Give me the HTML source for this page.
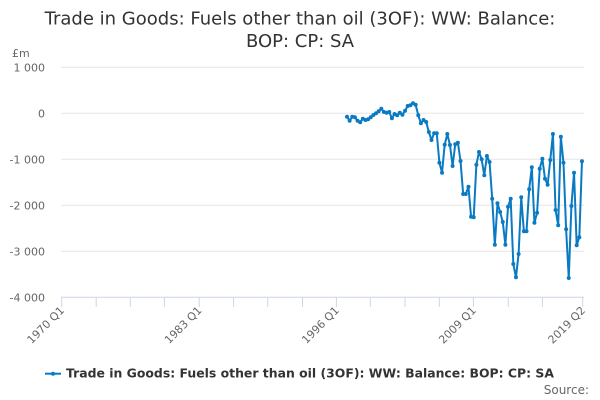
<!DOCTYPE html>
<html>
<head>
<meta charset="utf-8">
<style>
  html, body { margin: 0; padding: 0; background: #ffffff; }
  svg { display: block; font-family: "DejaVu Sans", "Liberation Sans", sans-serif; }
</style>
</head>
<body>
<svg width="600" height="400" viewBox="0 0 600 400" xmlns="http://www.w3.org/2000/svg">
  <defs>
    <marker id="dot" viewBox="-3 -3 6 6" markerWidth="6" markerHeight="6" refX="0" refY="0" markerUnits="userSpaceOnUse">
      <circle cx="0" cy="0" r="2" fill="#0a7bc2"/>
    </marker>
  </defs>
  <rect x="0" y="0" width="600" height="400" fill="#ffffff"/>

  <!-- Title -->
  <text x="300" y="24.5" text-anchor="middle" font-size="18" fill="#333333">Trade in Goods: Fuels other than oil (3OF): WW: Balance:</text>
  <text x="300" y="47" text-anchor="middle" font-size="18" fill="#333333">BOP: CP: SA</text>

  <!-- Axis unit -->
  <text x="12" y="57" font-size="11" fill="#666666">£m</text>

  <!-- Gridlines -->
  <g stroke="#e6e6e6" stroke-width="1">
    <line x1="61" y1="67.3" x2="584" y2="67.3"/>
    <line x1="61" y1="113.3" x2="584" y2="113.3"/>
    <line x1="61" y1="159.3" x2="584" y2="159.3"/>
    <line x1="61" y1="205.3" x2="584" y2="205.3"/>
    <line x1="61" y1="251.3" x2="584" y2="251.3"/>
  </g>

  <!-- Y labels -->
  <g font-size="11" fill="#666666" text-anchor="end">
    <text x="45" y="71.3">1 000</text>
    <text x="45" y="117.3">0</text>
    <text x="45" y="163.3">-1 000</text>
    <text x="45" y="209.3">-2 000</text>
    <text x="45" y="255.3">-3 000</text>
    <text x="45" y="301.3">-4 000</text>
  </g>

  <!-- X axis -->
  <line x1="61" y1="297.3" x2="584" y2="297.3" stroke="#ccd6eb" stroke-width="1"/>
  <g stroke="#ccd6eb" stroke-width="1">
    <line x1="61.7" y1="297" x2="61.7" y2="307"/>
    <line x1="96.2" y1="297" x2="96.2" y2="307"/>
    <line x1="130.3" y1="297" x2="130.3" y2="307"/>
    <line x1="164.4" y1="297" x2="164.4" y2="307"/>
    <line x1="199.2" y1="297" x2="199.2" y2="307"/>
    <line x1="233.6" y1="297" x2="233.6" y2="307"/>
    <line x1="267.7" y1="297" x2="267.7" y2="307"/>
    <line x1="302.5" y1="297" x2="302.5" y2="307"/>
    <line x1="336.4" y1="297" x2="336.4" y2="307"/>
    <line x1="370.3" y1="297" x2="370.3" y2="307"/>
    <line x1="405" y1="297" x2="405" y2="307"/>
    <line x1="439.3" y1="297" x2="439.3" y2="307"/>
    <line x1="473.4" y1="297" x2="473.4" y2="307"/>
    <line x1="508.3" y1="297" x2="508.3" y2="307"/>
    <line x1="542.4" y1="297" x2="542.4" y2="307"/>
    <line x1="582.7" y1="297" x2="582.7" y2="307"/>
  </g>

  <!-- X labels -->
  <g font-size="11" fill="#666666" text-anchor="end">
    <text x="65" y="311" transform="rotate(-45 65 311)">1970 Q1</text>
    <text x="202.5" y="311" transform="rotate(-45 202.5 311)">1983 Q1</text>
    <text x="339.7" y="311" transform="rotate(-45 339.7 311)">1996 Q1</text>
    <text x="476.7" y="311" transform="rotate(-45 476.7 311)">2009 Q1</text>
    <text x="586" y="311" transform="rotate(-45 586 311)">2019 Q2</text>
  </g>

  <!-- Series -->
  <polyline fill="none" stroke="#0a7bc2" stroke-width="2" stroke-linejoin="round" stroke-linecap="round"
    marker-start="url(#dot)" marker-mid="url(#dot)" marker-end="url(#dot)"
    points="347.0,116.7 349.64,120.7 352.28,116.7 354.92,117.3 357.56,120.7 360.2,122.3 362.84,118.7 365.48,120 368.12,119.3 370.76,117.3 373.4,115 376.04,113.3 378.68,111.3 381.32,108.7 383.96,112 386.6,112.7 389.24,112 391.88,118.3 394.52,114 397.16,115.3 399.8,112.7 402.44,114.7 405.08,110.7 407.72,106 410.36,105.3 413.0,103.3 415.64,104.7 418.28,115.3 420.92,123.3 423.56,120 426.2,122 428.84,132 431.48,140 434.12,133.3 436.76,133.3 439.4,162.7 442.04,172.7 444.68,144.7 447.32,134 449.96,145 452.6,166 455.24,144.3 457.88,142.7 460.52,161 463.16,194 465.8,194 468.44,186.7 471.08,216.7 473.72,217.3 476.36,164.7 479.0,152 481.64,159.3 484.28,175.3 486.92,156 489.56,162 492.2,198.7 494.84,244.7 497.48,203.3 500.12,212 502.76,222 505.4,244.7 508.04,206.7 510.68,198.7 513.32,264 515.96,277.3 518.6,254 521.24,197.3 523.88,231.3 526.52,231.3 529.16,189.3 531.8,167.3 534.44,222.7 537.08,212.7 539.72,168.7 542.36,158.7 545.0,178.7 547.64,184.7 550.28,160 552.92,134 555.56,210 558.2,225.3 560.84,136.7 563.48,162.7 566.12,229.3 568.76,278 571.4,206 574.04,172.7 576.68,245.3 579.32,237.3 581.96,161.3"/>

  <!-- Legend -->
  <line x1="45" y1="373.7" x2="61" y2="373.7" stroke="#0a7bc2" stroke-width="2"/>
  <circle cx="53" cy="373.7" r="2" fill="#0a7bc2"/>
  <text x="66" y="377.5" font-size="12.4" font-weight="bold" fill="#333333" textLength="488" lengthAdjust="spacingAndGlyphs">Trade in Goods: Fuels other than oil (3OF): WW: Balance: BOP: CP: SA</text>

  <!-- Credits -->
  <text x="589" y="394" text-anchor="end" font-size="12" fill="#666666">Source:</text>
</svg>
</body>
</html>
